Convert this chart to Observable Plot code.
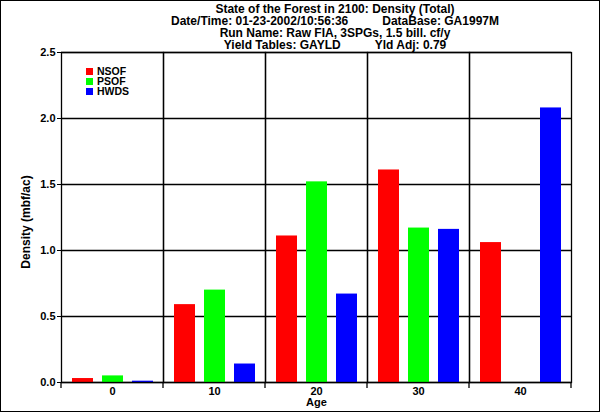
<!DOCTYPE html>
<html><head><meta charset="utf-8">
<script src="https://cdn.jsdelivr.net/npm/d3@7"></script>
<script src="https://cdn.jsdelivr.net/npm/@observablehq/plot@0.6"></script>
<style>
body{margin:0;background:#fff;}
#wrap{position:relative;width:600px;height:412px;font-family:"Liberation Sans",Arial,sans-serif;font-weight:bold;color:#000;}
#border{position:absolute;left:0;top:0;width:598px;height:410px;border:1px solid #000;pointer-events:none;}
#title{position:absolute;left:35px;top:3px;width:600px;text-align:center;font-size:12px;line-height:12px;}
#legend{position:absolute;left:86px;top:66px;font-size:10.5px;line-height:10px;}
#legend .row{display:flex;align-items:center;height:10px;}
#legend .sw{width:7px;height:7px;margin-right:4px;}
#ylab{position:absolute;left:26px;top:222px;font-size:12px;white-space:nowrap;transform:translate(-50%,-50%) rotate(-90deg);}
svg{position:absolute;left:0;top:0;}
</style></head><body><div id="wrap"><div id="title"></div><div id="legend"></div><div id="ylab"></div></div>
<script>
const ages = [0, 10, 20, 30, 40];
const species = ["NSOF", "PSOF", "HWDS"];
const colors = ["#ff0000", "#00ff00", "#0000ff"];
const nsof = [0.03, 0.59, 1.11, 1.61, 1.06];
const psof = [0.05, 0.70, 1.52, 1.17, 0.0];
const hwds = [0.01, 0.14, 0.67, 1.16, 2.08];
const yTicks = [0, 0.5, 1.0, 1.5, 2.0, 2.5];
const titleLines = [
  ["State of the Forest in 2100: Density (Total)"],
  ["Date/Time: 01-23-2002/10:56:36", "DataBase: GA1997M"],
  ["Run Name: Raw FIA, 3SPGs, 1.5 bill. cf/y"],
  ["Yield Tables: GAYLD", "Yld Adj: 0.79"]
];
const yLabel = "Density (mbf/ac)";
const xLabel = "Age";

const series = [nsof, psof, hwds];
const rows = [];
ages.forEach((a, i) => species.forEach((s, j) => rows.push({age: a, species: s, value: series[j][i]})));

const plot = Plot.plot({
  width: 600, height: 412,
  marginLeft: 59, marginRight: 28, marginTop: 52, marginBottom: 30,
  style: {fontFamily: '"Liberation Sans", Arial, sans-serif', fontSize: "11px", fontWeight: "bold", background: "transparent", color: "#000"},
  facet: {data: rows, x: "age", marginLeft: 59, marginRight: 28, marginTop: 52, marginBottom: 30},
  fx: {domain: ages, padding: 0, paddingInner: 0, paddingOuter: 0, tickSize: 0, tickPadding: 5, label: xLabel, labelAnchor: "center", labelOffset: 23},
  x: {domain: species, paddingInner: 0.31, paddingOuter: 0.35, axis: null},
  y: {domain: [0, 2.5], ticks: yTicks, tickFormat: d => d.toFixed(1), tickSize: 4, tickPadding: 2, label: null},
  color: {domain: species, range: colors},
  marks: [
    Plot.ruleY(yTicks, {stroke: "#000", strokeWidth: 1.3}),
    Plot.barY(rows, {x: "species", y: "value", fill: "species"}),
    Plot.frame({stroke: "#000", strokeWidth: 1.3})
  ]
});
const wrap = document.getElementById("wrap");
wrap.insertBefore(plot, wrap.firstChild);

// boundary ticks under the x axis, from the fx scale
const fx = plot.scale("fx"), y = plot.scale("y");
const bounds = ages.map(a => fx.apply(a)).concat([fx.apply(ages[ages.length - 1]) + fx.bandwidth]);
const y0 = y.apply(0);
d3.select(plot).append("g").selectAll("line").data(bounds).join("line")
  .attr("x1", d => d).attr("x2", d => d).attr("y1", y0).attr("y2", y0 + 6)
  .attr("stroke", "#000").attr("stroke-width", 1.3);

// title
const t = d3.select("#title");
titleLines.forEach(parts => {
  const line = t.append("div");
  parts.forEach((p, i) => line.append("span").style("margin-left", i ? "34px" : "0").text(p));
});
// y label
d3.select("#ylab").text(yLabel);
// legend
const lg = d3.select("#legend");
species.forEach((s, i) => {
  const r = lg.append("div").attr("class", "row");
  r.append("div").attr("class", "sw").style("background", colors[i]);
  r.append("span").text(s);
});
d3.select("#wrap").append("div").attr("id", "border");
</script></body></html>
